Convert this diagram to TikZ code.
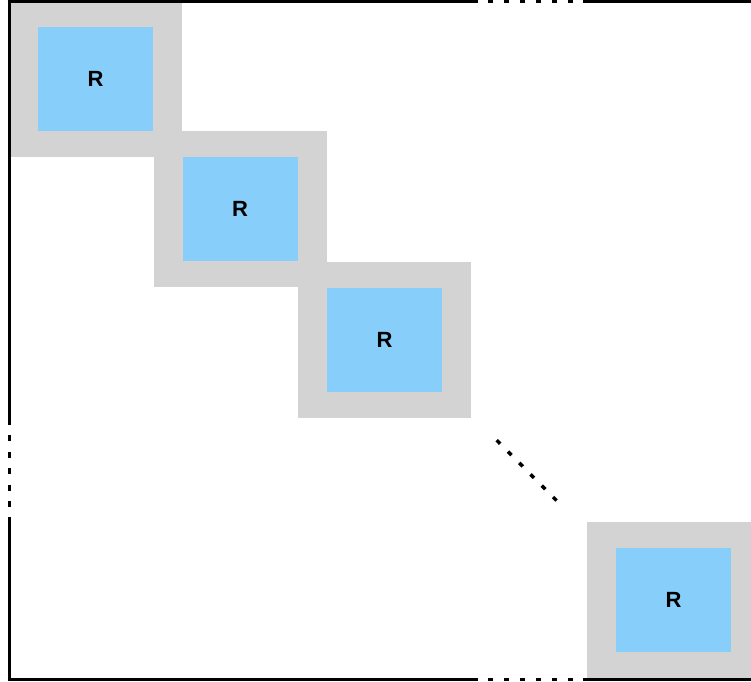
\documentclass[tikz,border=0pt]{standalone}
\usepackage{fontspec}
\setmainfont{Liberation Sans}
\usetikzlibrary{positioning}
\definecolor{cellblue}{HTML}{87CEFA}
\definecolor{padgray}{HTML}{D3D3D3}
\definecolor{ink}{HTML}{000000}
\tikzset{
  padbox/.style={fill=padgray,draw=none,inner sep=0pt,
                 minimum width=173pt,minimum height=156pt},
  cellbox/.style={fill=cellblue,draw=none,inner sep=0pt,
                  minimum width=115pt,minimum height=104pt,
                  font=\fontsize{22}{26}\selectfont\bfseries},
  rule/.style={draw=ink,line width=3pt,line cap=butt},
  gapdots/.style={rule,dash pattern=on 5pt off 11pt},
  sidedots/.style={rule,dash pattern=on 6pt off 10.5pt},
  diagdots/.style={rule,line width=3.5pt,dash pattern=on 5pt off 11pt}
}

\begin{document}
\begin{tikzpicture}[x=1pt,y=-1pt]
      \clip (0,0) rectangle (751,681);
      \fill[white] (0,0) rectangle (751,681);

      % diagonal blocks, the fourth one stands for the last
      \foreach \k in {0,1,2,4} {
        \node[padbox] (pad\k) at ({95.5+144.5*\k},{79+130.25*\k}) {};
        \node[cellbox] (cell\k) at (pad\k) {R};
      }
      \draw[diagdots] ([xshift=25.5pt,yshift=-22.5pt]pad2.south east)
        -- ([xshift=-30pt,yshift=21pt]pad4.north west);

      % frame
      \draw[rule] (9,0) -- (9,425);
      \draw[sidedots] (9,435) -- (9,507);
      \draw[rule] (9,517) -- (9,681);
      \draw[rule] (7.5,1.5) -- (478,1.5);
      \draw[gapdots] (488,1.5) -- (573,1.5);
      \draw[rule] (583,1.5) -- (751,1.5);
      \draw[rule] (7.5,679.5) -- (478,679.5);
      \draw[gapdots] (488,679.5) -- (573,679.5);
      \draw[rule] (583,679.5) -- (751,679.5);
    \end{tikzpicture}
\end{document}
